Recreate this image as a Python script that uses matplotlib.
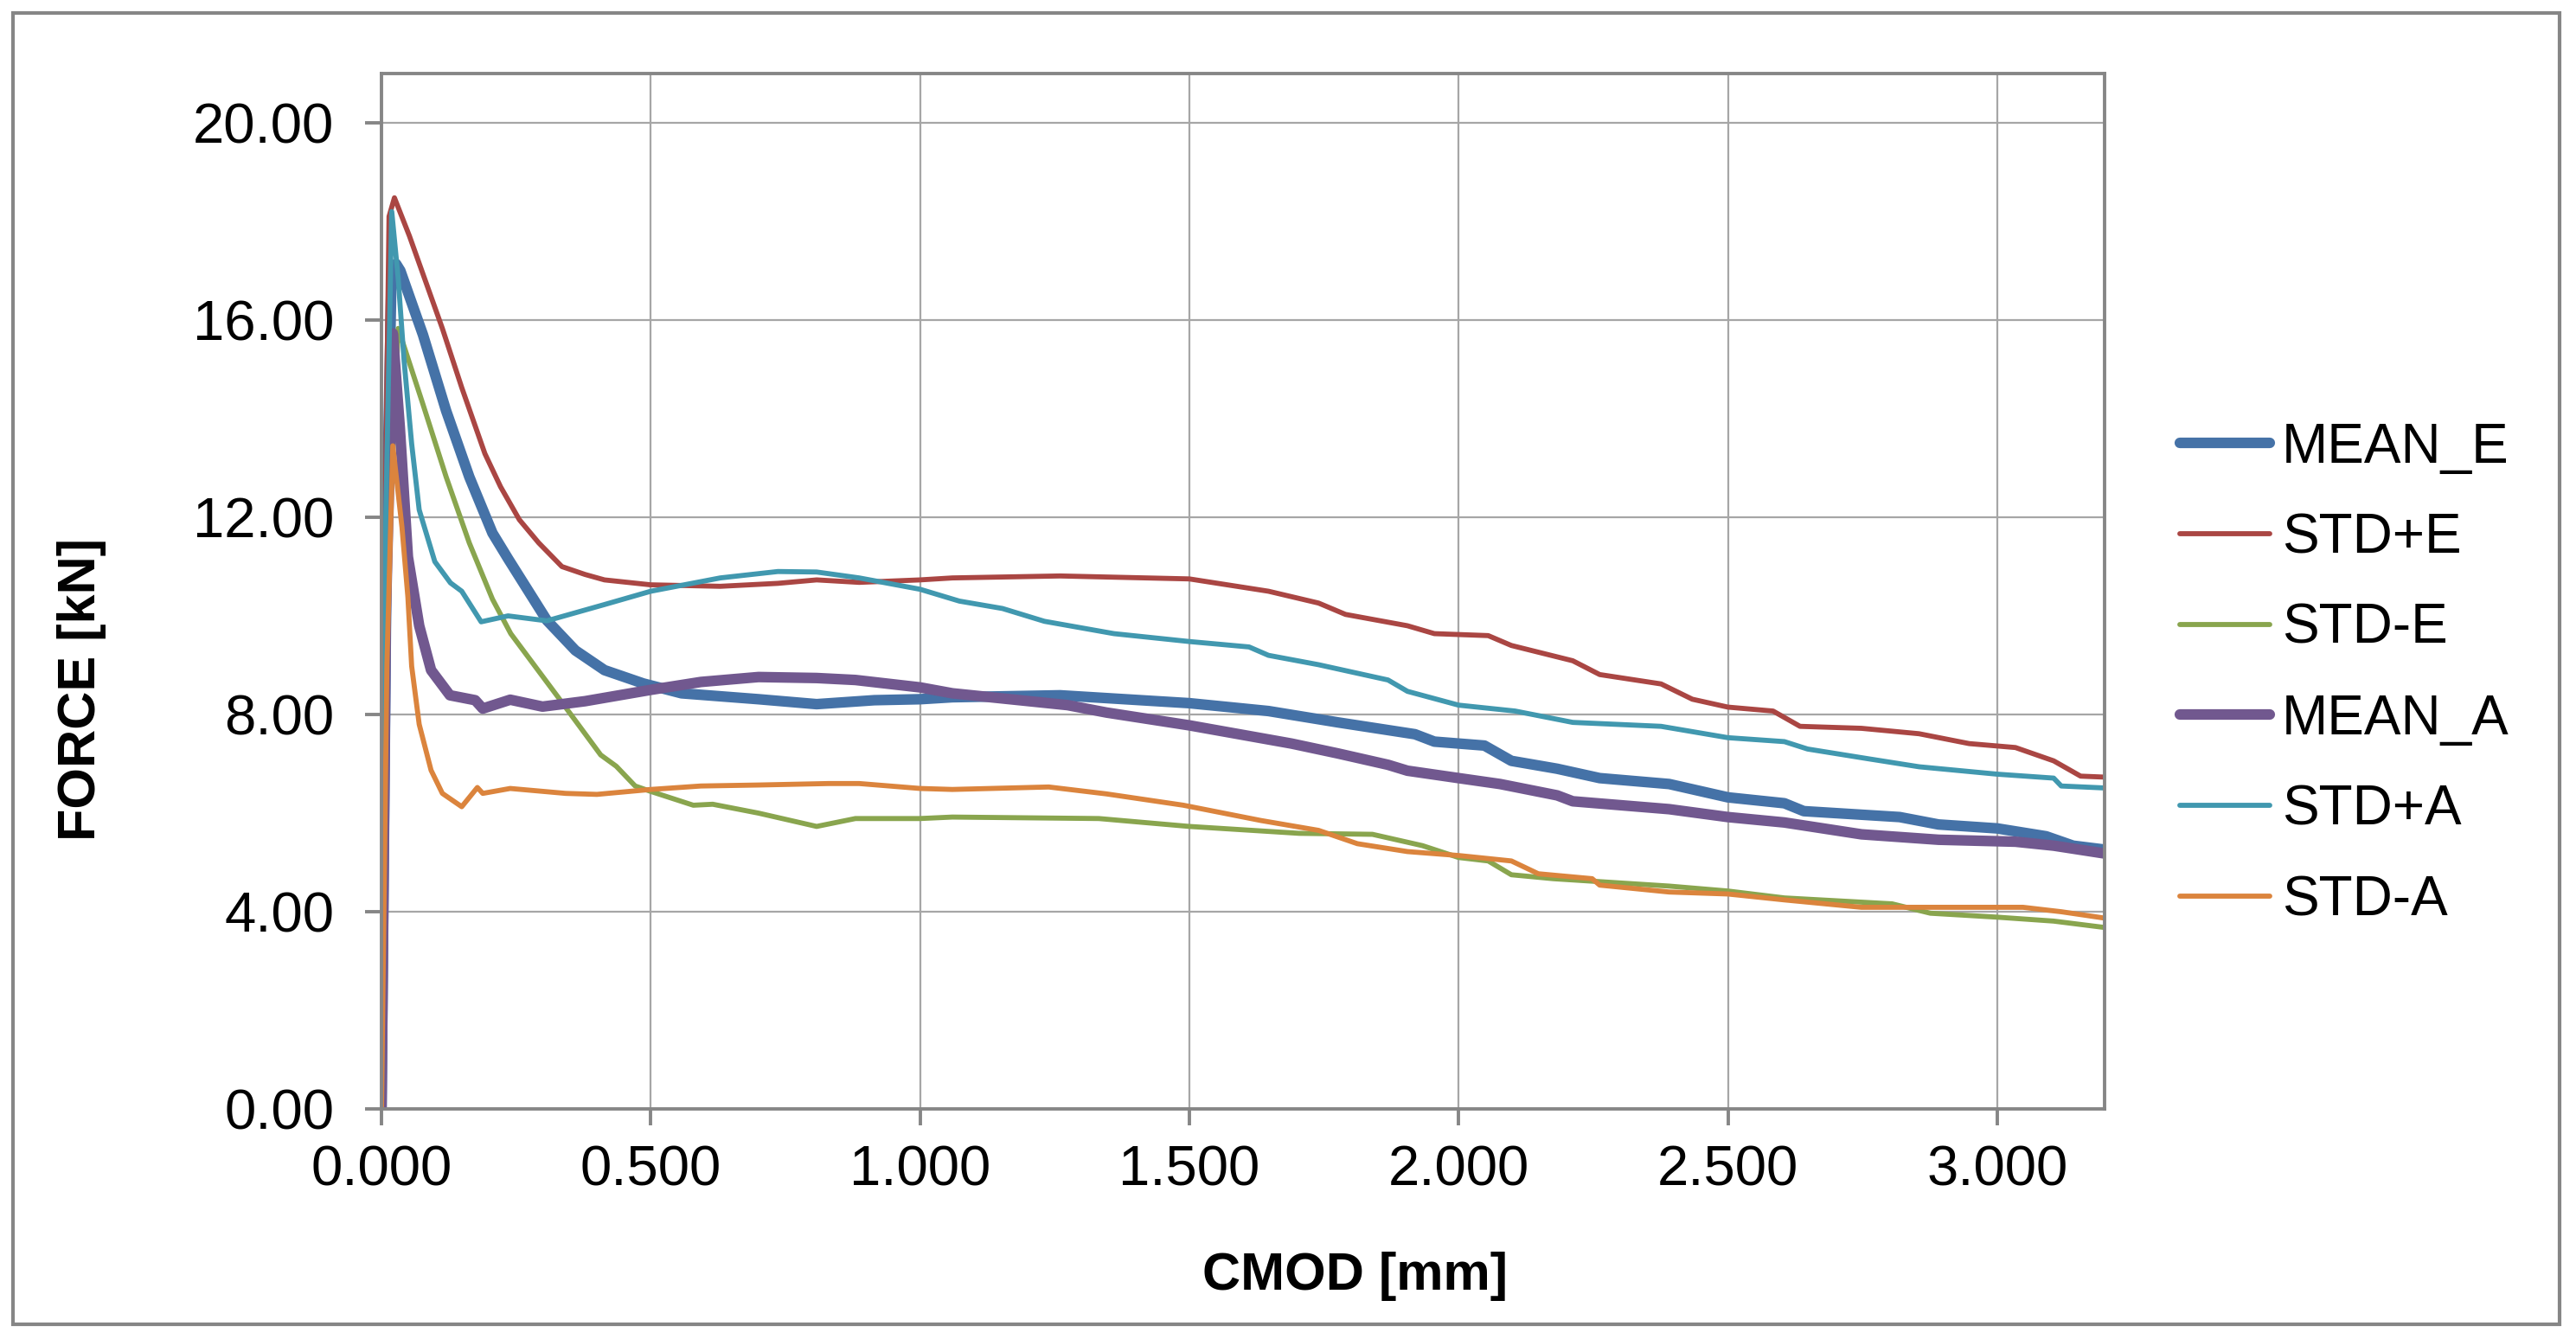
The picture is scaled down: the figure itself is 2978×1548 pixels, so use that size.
import matplotlib
matplotlib.use('Agg')
import matplotlib.pyplot as plt
from matplotlib.patches import Rectangle

plt.rcParams['font.family'] = ['Liberation Sans', 'DejaVu Sans']

# CMOD [mm] / FORCE [kN]
mean_e_x = [0.0, 0.010, 0.018, 0.027, 0.035, 0.077, 0.120, 0.163, 0.206, 0.235, 0.307, 0.360, 0.414, 0.486, 0.557,
            0.700, 0.808, 0.915, 1.000, 1.060, 1.260, 1.500, 1.647, 1.776, 1.919, 1.955, 2.048, 2.098, 2.183, 2.262,
            2.391, 2.500, 2.605, 2.641, 2.819, 2.891, 3.000, 3.091, 3.141, 3.200]
mean_e_y = [0.0, 12.0, 16.6, 17.14, 17.0, 15.70, 14.16, 12.82, 11.68, 11.16, 9.91, 9.30, 8.90, 8.63, 8.43,
            8.31, 8.21, 8.29, 8.31, 8.35, 8.39, 8.23, 8.07, 7.84, 7.60, 7.45, 7.37, 7.06, 6.90, 6.71,
            6.59, 6.32, 6.20, 6.04, 5.92, 5.77, 5.69, 5.53, 5.34, 5.26]

std_pe_x = [0.0, 0.008, 0.014, 0.024, 0.052, 0.113, 0.149, 0.192, 0.221, 0.256, 0.292, 0.335, 0.378, 0.414, 0.500,
            0.629, 0.736, 0.808, 0.887, 1.000, 1.060, 1.260, 1.500, 1.647, 1.740, 1.790, 1.905, 1.955, 2.055, 2.098,
            2.212, 2.262, 2.376, 2.434, 2.500, 2.584, 2.634, 2.748, 2.855, 2.948, 3.034, 3.105, 3.155, 3.200]
std_pe_y = [0.0, 13.0, 18.10, 18.48, 17.70, 15.83, 14.63, 13.29, 12.62, 11.95, 11.48, 11.00, 10.84, 10.73, 10.63,
            10.60, 10.66, 10.73, 10.68, 10.73, 10.77, 10.81, 10.75, 10.50, 10.26, 10.03, 9.80, 9.64, 9.60, 9.40,
            9.09, 8.81, 8.62, 8.31, 8.15, 8.07, 7.76, 7.72, 7.61, 7.41, 7.33, 7.06, 6.75, 6.73]

std_me_x = [0.0, 0.012, 0.031, 0.077, 0.120, 0.163, 0.206, 0.240, 0.328, 0.407, 0.436, 0.471, 0.500, 0.579, 0.615,
            0.700, 0.808, 0.880, 1.000, 1.060, 1.332, 1.500, 1.704, 1.840, 1.933, 2.000, 2.055, 2.098, 2.176, 2.391,
            2.500, 2.605, 2.805, 2.876, 3.000, 3.105, 3.200]
std_me_y = [0.0, 11.0, 15.83, 14.29, 12.82, 11.48, 10.34, 9.64, 8.35, 7.18, 6.95, 6.55, 6.44, 6.16, 6.18,
            6.00, 5.73, 5.89, 5.89, 5.92, 5.89, 5.73, 5.59, 5.57, 5.34, 5.10, 5.03, 4.75, 4.67, 4.52,
            4.42, 4.28, 4.16, 3.97, 3.89, 3.81, 3.68]

mean_a_x = [0.0, 0.008, 0.021, 0.034, 0.049, 0.070, 0.092, 0.127, 0.174, 0.188, 0.239, 0.299, 0.378, 0.500, 0.593,
            0.700, 0.808, 0.880, 1.000, 1.060, 1.274, 1.346, 1.500, 1.690, 1.776, 1.869, 1.905, 2.000, 2.077, 2.183,
            2.212, 2.391, 2.500, 2.605, 2.748, 2.891, 3.034, 3.105, 3.200]
mean_a_y = [0.0, 10.0, 15.73, 13.82, 11.20, 9.80, 8.90, 8.39, 8.29, 8.12, 8.30, 8.16, 8.27, 8.50, 8.66,
            8.76, 8.74, 8.70, 8.55, 8.43, 8.19, 8.04, 7.78, 7.41, 7.21, 6.98, 6.86, 6.71, 6.59, 6.36,
            6.24, 6.08, 5.92, 5.81, 5.57, 5.46, 5.42, 5.34, 5.18]

std_pa_x = [0.0, 0.008, 0.019, 0.031, 0.042, 0.056, 0.070, 0.099, 0.128, 0.149, 0.185, 0.235, 0.307, 0.414, 0.500,
            0.629, 0.736, 0.808, 0.887, 1.000, 1.073, 1.153, 1.231, 1.360, 1.500, 1.611, 1.647, 1.740, 1.869, 1.905,
            2.000, 2.105, 2.212, 2.376, 2.500, 2.605, 2.648, 2.762, 2.855, 3.000, 3.105, 3.119, 3.200]
std_pa_y = [0.0, 12.0, 18.20, 16.84, 15.16, 13.49, 12.15, 11.10, 10.67, 10.50, 9.88, 10.00, 9.90, 10.23, 10.50,
            10.77, 10.90, 10.89, 10.77, 10.54, 10.30, 10.15, 9.89, 9.64, 9.48, 9.37, 9.20, 9.01, 8.70, 8.47,
            8.19, 8.07, 7.84, 7.76, 7.53, 7.45, 7.30, 7.10, 6.94, 6.79, 6.71, 6.55, 6.51]

std_ma_x = [0.0, 0.010, 0.021, 0.038, 0.049, 0.056, 0.070, 0.092, 0.113, 0.149, 0.178, 0.188, 0.239, 0.342, 0.400,
            0.500, 0.593, 0.700, 0.830, 0.887, 1.000, 1.060, 1.239, 1.346, 1.489, 1.633, 1.740, 1.812, 1.905, 2.000,
            2.098, 2.148, 2.248, 2.262, 2.391, 2.500, 2.605, 2.748, 3.048, 3.119, 3.200]
std_ma_y = [0.0, 9.0, 13.45, 11.80, 10.38, 8.98, 7.80, 6.87, 6.40, 6.13, 6.52, 6.40, 6.50, 6.40, 6.38,
            6.48, 6.55, 6.57, 6.60, 6.60, 6.50, 6.48, 6.53, 6.39, 6.16, 5.85, 5.65, 5.38, 5.22, 5.14,
            5.03, 4.77, 4.67, 4.54, 4.40, 4.36, 4.24, 4.09, 4.09, 4.00, 3.87]

labels = ['MEAN_E', 'STD+E', 'STD-E', 'MEAN_A', 'STD+A', 'STD-A']
xs = [mean_e_x, std_pe_x, std_me_x, mean_a_x, std_pa_x, std_ma_x]
ys = [mean_e_y, std_pe_y, std_me_y, mean_a_y, std_pa_y, std_ma_y]
colors = ['#4572A7', '#AA4643', '#89A54E', '#71588F', '#4198AF', '#DB843D']
widths = [4.4, 2.1, 2.1, 4.4, 2.1, 2.1]

fig = plt.figure(figsize=(14.89, 7.74), dpi=200)
ax = fig.add_axes([0.1481, 0.1718, 0.669, 0.7733])

for x, y, c, w, lab in zip(xs, ys, colors, widths, labels):
    ax.plot(x, y, color=c, lw=w, label=lab, solid_capstyle='round', solid_joinstyle='round')

ax.set_xlim(0, 3.2)
ax.set_ylim(0, 21)
ax.set_xticks([0, 0.5, 1.0, 1.5, 2.0, 2.5, 3.0])
ax.set_yticks([0, 4, 8, 12, 16, 20])
ax.set_xticklabels(['%.3f' % t for t in ax.get_xticks()])
ax.set_yticklabels(['%.2f' % t for t in ax.get_yticks()])
ax.grid(True, color='#A6A6A6', lw=0.8)
ax.set_axisbelow(True)
for s in ax.spines.values():
    s.set_color('#868686')
    s.set_linewidth(1.4)
ax.tick_params(axis='both', labelsize=23.5, color='#868686', width=1.4, length=6.8)
ax.tick_params(axis='y', pad=13)
ax.tick_params(axis='x', pad=8)

fig.text(50 / 1568, 1 - 420 / 816, 'FORCE [kN]', rotation=90, fontsize=22, fontweight='bold',
         ha='center', va='center')
fig.text(825 / 1568, 1 - 778 / 816, 'CMOD [mm]', fontsize=22, fontweight='bold',
         ha='center', va='center')

leg = ax.legend(loc='upper left', bbox_to_anchor=(1327 / 1568, 1 - 257 / 816), bbox_transform=fig.transFigure,
                frameon=False, fontsize=23, handlelength=1.62, handletextpad=0.22, labelspacing=0.70,
                borderaxespad=0, borderpad=0)

fig.patches.append(Rectangle((0.005, 0.011), 0.9886, 0.979, transform=fig.transFigure, fill=False,
                             edgecolor='#868686', lw=1.5))

fig.savefig('out.png', dpi=200)
